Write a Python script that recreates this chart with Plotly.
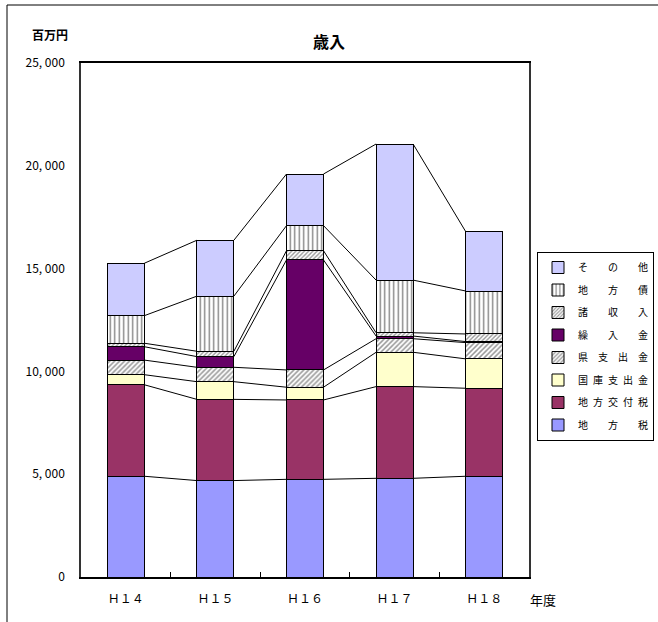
import plotly.graph_objects as go

years = ["Ｈ１４", "Ｈ１５", "Ｈ１６", "Ｈ１７", "Ｈ１８"]

# Series (bottom to top of stack), millions of yen
chihouzei     = [4900, 4690, 4750, 4800, 4900]
koufuzei      = [4450, 3950, 3860, 4460, 4280]
kokko         = [490, 860, 620, 1670, 1430]
kenshishutsu  = [710, 700, 840, 660, 790]
kurireire     = [650, 520, 5350, 130, 50]
shoshunyu     = [170, 260, 450, 160, 370]
chihousai     = [1340, 2680, 1220, 2560, 2090]
sonota        = [2550, 2720, 2510, 6620, 2890]

names = ["地方税", "地方交付税", "国庫支出金", "県支出金", "繰入金", "諸収入", "地方債", "その他"]
series = [chihouzei, koufuzei, kokko, kenshishutsu, kurireire, shoshunyu, chihousai, sonota]

y_ticks = [0, 5000, 10000, 15000, 20000, 25000]
y_ticktext = ["0", "5, 000", "10, 000", "15, 000", "20, 000", "25, 000"]

FONT = "Noto Sans CJK JP"
BW = 0.413
xs = list(range(len(years)))


def spaced(label):
    n = len(label)
    if n == 3:
        gap = "\u2003\u2003"
    elif n == 4:
        gap = "\u2003"
    else:
        gap = "\u2002"
    return gap.join(label)


styles = [
    dict(color="#9999FF"),
    dict(color="#993366"),
    dict(color="#FFFFCC"),
    dict(color="white", pattern=dict(shape="/", fgcolor="#333333", bgcolor="white", size=3.5, solidity=0.45)),
    dict(color="#660066"),
    dict(color="white", pattern=dict(shape="/", fgcolor="#333333", bgcolor="white", size=3, solidity=0.45)),
    dict(color="white", pattern=dict(shape="|", fgcolor="#000000", bgcolor="white", size=4.5, solidity=0.3)),
    dict(color="#CCCCFF"),
]

fig = go.Figure()
n_series = len(series)
for i, (nm, vals, st) in enumerate(zip(names, series, styles)):
    marker = dict(color=st["color"], line=dict(color="black", width=1))
    if "pattern" in st:
        marker["pattern"] = st["pattern"]
    fig.add_trace(go.Bar(
        x=xs, y=vals, name=spaced(nm), width=BW, marker=marker,
        legendgroup=nm, legendrank=(n_series - i) * 10, hoverinfo="skip",
    ))

# connector lines between stacked segments
lx, ly = [], []
cum = [0] * len(years)
for vals in series:
    cum = [c + v for c, v in zip(cum, vals)]
    for i in range(len(years) - 1):
        lx += [xs[i] + BW / 2, xs[i + 1] - BW / 2, None]
        ly += [cum[i], cum[i + 1], None]
fig.add_trace(go.Scatter(x=lx, y=ly, mode="lines", line=dict(color="black", width=1),
                         showlegend=False, hoverinfo="skip"))

fig.update_layout(
    width=658, height=622,
    barmode="stack",
    paper_bgcolor="white", plot_bgcolor="white",
    margin=dict(l=81, r=129, t=63, b=45, autoexpand=False),
    font=dict(family=FONT, size=11, color="black"),
    title=dict(text="<b>歳入</b>", x=0.5, xref="container", xanchor="center",
               y=1 - 42 / 622, yref="container", yanchor="middle",
               font=dict(size=16, family=FONT, color="black")),
    showlegend=True,
    legend=dict(x=(537 - 81) / 448, xanchor="left", y=(577 - 252) / 514, yanchor="top",
                traceorder="grouped", bordercolor="black", borderwidth=1,
                bgcolor="white", font=dict(size=10, family=FONT),
                tracegroupgap=3.5, itemwidth=30),
    xaxis=dict(range=[-0.5, 4.5], tickvals=xs, ticktext=years, ticks="",
               showline=True, linecolor="black", linewidth=1.5, mirror=True,
               showgrid=False, zeroline=False, ticklabelstandoff=10,
               tickfont=dict(size=12, family=FONT),
               minor=dict(tickvals=[0.5, 1.5, 2.5, 3.5], ticks="inside", ticklen=5,
                          tickcolor="black", showgrid=False)),
    yaxis=dict(range=[0, 25000], tickvals=y_ticks, ticktext=y_ticktext, ticks="",
               showline=True, linecolor="#333333", linewidth=1.5, mirror=True,
               showgrid=False, zeroline=False, ticklabelstandoff=12,
               tickfont=dict(size=12, family=FONT)),
    annotations=[
        dict(text="<b>百万円</b>", xref="paper", yref="paper",
             x=(50 - 81) / 448, y=(577 - 35) / 514, xanchor="center", yanchor="middle",
             showarrow=False, font=dict(size=12, family=FONT)),
        dict(text="年度", xref="paper", yref="paper",
             x=(543 - 81) / 448, y=(577 - 599) / 514, xanchor="center", yanchor="middle",
             showarrow=False, font=dict(size=13, family=FONT)),
    ],
    shapes=[
        dict(type="line", xref="paper", yref="paper",
             x0=(7 - 81) / 448, x1=(7 - 81) / 448, y0=(577 - 5) / 514, y1=(577 - 640) / 514,
             line=dict(color="black", width=1)),
        dict(type="line", xref="paper", yref="paper",
             x0=(7 - 81) / 448, x1=(680 - 81) / 448, y0=(577 - 5) / 514, y1=(577 - 5) / 514,
             line=dict(color="black", width=1)),
    ],
)

fig.write_html("out.html", config={"displayModeBar": False},
               post_script="document.body.style.margin='0';")
